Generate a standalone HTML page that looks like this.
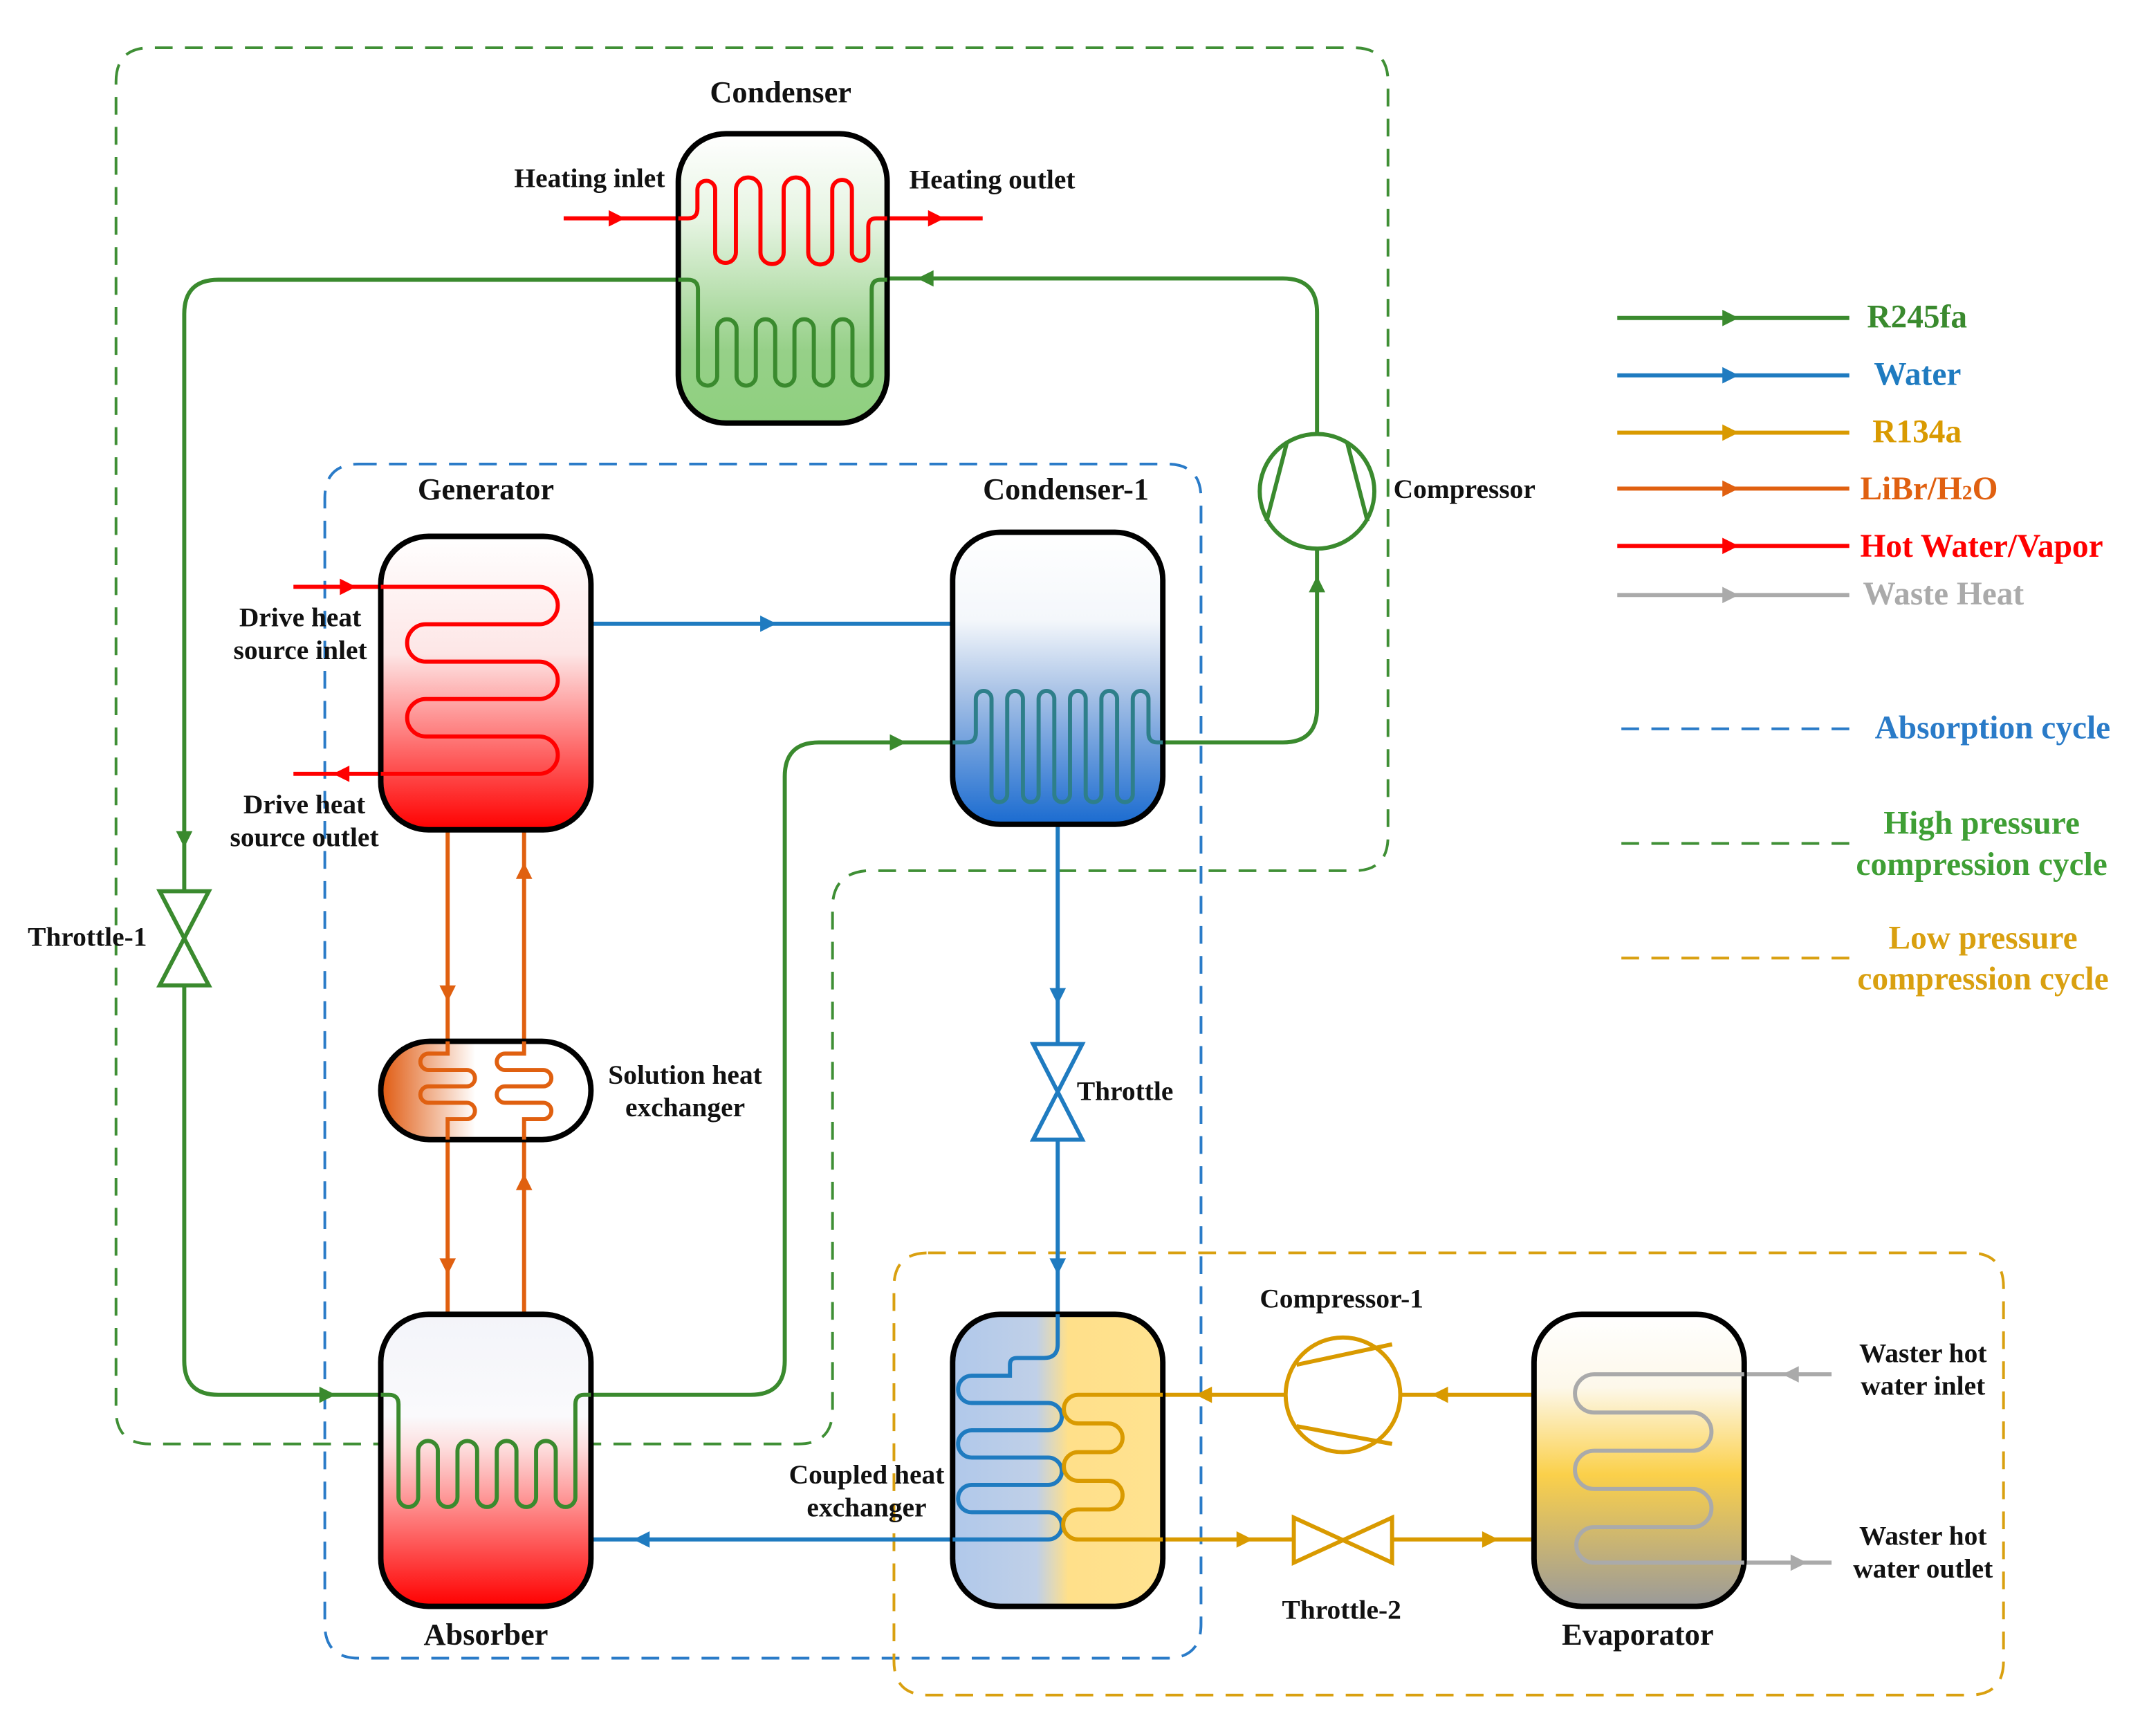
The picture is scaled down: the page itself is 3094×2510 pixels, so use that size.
<!DOCTYPE html>
<html><head><meta charset="utf-8"><style>
html,body{margin:0;padding:0;background:#fff}
svg{display:block}
text{font-family:"Liberation Serif",serif;font-weight:bold;font-size:20px}
.t{font-size:22.5px}
.lg{font-size:24px}
</style></head><body>
<svg width="3094" height="2510" viewBox="0 0 1568 1272" preserveAspectRatio="none" xmlns="http://www.w3.org/2000/svg">
<defs>
<linearGradient id="gGreen" x1="0" y1="0" x2="0" y2="1"><stop offset="0" stop-color="#fff"/><stop offset="0.3" stop-color="#e6f4e2"/><stop offset="0.75" stop-color="#96d088"/><stop offset="1" stop-color="#8fd07f"/></linearGradient>
<linearGradient id="gRed" x1="0" y1="0" x2="0" y2="1"><stop offset="0" stop-color="#fff"/><stop offset="0.4" stop-color="#fde6e6"/><stop offset="1" stop-color="#f00"/></linearGradient>
<linearGradient id="gRed2" x1="0" y1="0" x2="0" y2="1"><stop offset="0" stop-color="#f3f4f9"/><stop offset="0.35" stop-color="#fafafc"/><stop offset="0.45" stop-color="#fde0e0"/><stop offset="1" stop-color="#f00"/></linearGradient>
<linearGradient id="gBlue" x1="0" y1="0" x2="0" y2="1"><stop offset="0" stop-color="#fff"/><stop offset="0.3" stop-color="#f4f7fb"/><stop offset="0.55" stop-color="#a8c2e6"/><stop offset="1" stop-color="#1a6bd0"/></linearGradient>
<linearGradient id="gCHX" x1="0" y1="0" x2="1" y2="0"><stop offset="0" stop-color="#b0c8ea"/><stop offset="0.4" stop-color="#c0d0e8"/><stop offset="0.55" stop-color="#ffe08a"/><stop offset="1" stop-color="#ffe290"/></linearGradient>
<linearGradient id="gEvap" x1="0" y1="0" x2="0" y2="1"><stop offset="0" stop-color="#fff"/><stop offset="0.25" stop-color="#fdf8ea"/><stop offset="0.55" stop-color="#fbd04a"/><stop offset="1" stop-color="#9a9a9a"/></linearGradient>
<linearGradient id="gSHX" x1="0" y1="0" x2="1" y2="0"><stop offset="0" stop-color="#e05a10"/><stop offset="0.45" stop-color="#fff"/><stop offset="1" stop-color="#fff"/></linearGradient>
</defs>

<g fill="none" stroke-width="2" stroke-dasharray="13,9">
<path d="M85,60 Q85,35 110,35 H992 Q1017,35 1017,60 V613 Q1017,638 992,638 H635 Q610,640 610,665 V1033 Q610,1058 585,1058 H110 Q85,1058 85,1033 Z" stroke="#3f8f35"/>
<path d="M263,340 H855 Q880,340 880,365 V1190 Q880,1215 855,1215 H263 Q238,1215 238,1190 V365 Q238,340 263,340 Z" stroke="#2a7bc8"/>
<path d="M680,918 H1443 Q1468,918 1468,943 V1217 Q1468,1242 1443,1242 H680 Q655,1242 655,1217 V943 Q655,918 680,918 Z" stroke="#d9a010"/>
</g>

<g fill="none" stroke="#3a8a2e" stroke-width="3">
<path d="M497,205 H160 Q135,205 135,230 V997 Q135,1022 160,1022 H279"/>
<path d="M433,1022 H550 Q575,1022 575,997 V569 Q575,544 600,544 H698"/>
<path d="M852,544 H940 Q965,544 965,519 V402"/>
<path d="M965,318 V229 Q965,204 940,204 H650"/>
</g>
<g fill="none" stroke="#1f7bc0" stroke-width="3">
<path d="M433,457 H698"/>
<path d="M775,604 V765 M775,835 V963"/>
<path d="M698,1128 H433"/>
</g>
<g fill="none" stroke="#d99a00" stroke-width="3">
<path d="M1124,1022 H1026 M942,1022 H852"/>
<path d="M852,1128 H948 M1020,1128 H1124"/>
</g>
<g fill="none" stroke="#e06010" stroke-width="3">
<path d="M328,608 V763 M384,608 V763 M328,835 V963 M384,835 V963"/>
</g>
<g fill="none" stroke="#f00" stroke-width="3">
<path d="M413,160 H497 M650,160 H720"/>
<path d="M215,430 H279 M279,567 H215"/>
</g>
<g fill="none" stroke="#aaa" stroke-width="3">
<path d="M1342,1007 H1278 M1278,1145 H1342"/>
</g>

<g stroke="#000" stroke-width="4">
<rect x="497" y="98" width="153" height="212" rx="35" fill="url(#gGreen)"/>
<rect x="279" y="393" width="154" height="215" rx="35" fill="url(#gRed)"/>
<rect x="698" y="390" width="154" height="214" rx="35" fill="url(#gBlue)"/>
<rect x="279" y="963" width="154" height="214" rx="35" fill="url(#gRed2)"/>
<rect x="698" y="963" width="154" height="214" rx="35" fill="url(#gCHX)"/>
<rect x="1124" y="963" width="154" height="214" rx="35" fill="url(#gEvap)"/>
<rect x="279" y="763" width="154" height="72" rx="36" fill="url(#gSHX)"/>
</g>

<g fill="none" stroke-width="3">
<path stroke="#f00" d="M497,160 H504 Q511,160 511,153 V139 A6.5,6.5 0 0 1 524,139 V185 A7.6,7.6 0 0 0 539.2,185 V139 A9,9 0 0 1 557.2,139 V185 A8.5,8.5 0 0 0 574.2,185 V139 A9,9 0 0 1 592.2,139 V185 A8.8,8.8 0 0 0 609.8,185 V139 A7.2,7.2 0 0 1 624.2,139 V185 A6,6 0 0 0 636.2,185 V166 Q636.2,160 642,160 H650"/>
<path stroke="#3a8a2e" d="M497,205 H504 Q511.4,205 511.4,212 V276 A7.07,7.07 0 0 0 525.5,276 V241 A7.07,7.07 0 0 1 539.7,241 V276 A7.07,7.07 0 0 0 553.8,276 V241 A7.07,7.07 0 0 1 568,241 V276 A7.07,7.07 0 0 0 582.1,276 V241 A7.07,7.07 0 0 1 596.3,241 V276 A7.07,7.07 0 0 0 610.4,276 V241 A7.07,7.07 0 0 1 624.6,241 V276 A7.07,7.07 0 0 0 638.7,276 V212 Q638.7,205 645,205 H650"/>
<path stroke="#2e7f8a" d="M698,544 H708 Q715,544 715,537 V512 A5.75,5.75 0 0 1 726.5,512 V582 A5.75,5.75 0 0 0 738,582 V512 A5.75,5.75 0 0 1 749.5,512 V582 A5.75,5.75 0 0 0 761,582 V512 A5.75,5.75 0 0 1 772.5,512 V582 A5.75,5.75 0 0 0 784,582 V512 A5.75,5.75 0 0 1 795.5,512 V582 A5.75,5.75 0 0 0 807,582 V512 A5.75,5.75 0 0 1 818.5,512 V582 A5.75,5.75 0 0 0 830,582 V512 A5.75,5.75 0 0 1 841.5,512 V537 Q841.5,544 848,544 H852"/>
<path stroke="#3a8a2e" d="M279,1022 H285 Q292,1022 292,1029 V1097 A7.2,7.2 0 0 0 306.4,1097 V1063 A7.2,7.2 0 0 1 320.8,1063 V1097 A7.2,7.2 0 0 0 335.2,1097 V1063 A7.2,7.2 0 0 1 349.6,1063 V1097 A7.2,7.2 0 0 0 364,1097 V1063 A7.2,7.2 0 0 1 378.4,1063 V1097 A7.2,7.2 0 0 0 392.8,1097 V1063 A7.2,7.2 0 0 1 407.2,1063 V1097 A7.2,7.2 0 0 0 421.6,1097 V1029 Q421.6,1022 428,1022 H433"/>
<path stroke="#f00" d="M279,430 H395 A13.7,13.7 0 0 1 395,457.4 H312 A13.7,13.7 0 0 0 312,484.8 H395 A13.7,13.7 0 0 1 395,512.2 H312 A13.7,13.7 0 0 0 312,539.6 H395 A13.7,13.7 0 0 1 395,567 H279"/>
<path stroke="#aaa" d="M1278,1007 H1168 A14,14 0 0 0 1168,1035 H1240 A14,14 0 0 1 1240,1063 H1168 A14,14 0 0 0 1168,1091 H1240 A14,14 0 0 1 1240,1119 H1168 A13,13 0 0 0 1168,1145 H1278"/>
<path stroke="#1f7bc0" d="M775,963 V985 Q775,995 765,995 H745 Q740,995 740,1000 V1008 H712 A10,10 0 0 0 712,1028 H768 A10,10 0 0 1 768,1048 H712 A10,10 0 0 0 712,1068 H768 A10,10 0 0 1 768,1088 H712 A10,10 0 0 0 712,1108 H768 A10,10 0 0 1 768,1128 H698"/>
<path stroke="#d99a00" d="M852,1022 H790 A10.5,10.5 0 0 0 790,1043 H812 A10.5,10.5 0 0 1 812,1064 H790 A10.5,10.5 0 0 0 790,1085 H812 A10.5,10.5 0 0 1 812,1106 H790 A11,11 0 0 0 790,1128 H852"/>
<path stroke="#e06010" d="M328,763 V772 H314 A6,6 0 0 0 314,784 H342 A6,6 0 0 1 342,796 H314 A6,6 0 0 0 314,808 H342 A6,6 0 0 1 342,820 H328 V835"/>
<path stroke="#e06010" d="M384,763 V772 H370 A6,6 0 0 0 370,784 H398 A6,6 0 0 1 398,796 H370 A6,6 0 0 0 370,808 H398 A6,6 0 0 1 398,820 H384 V835"/>
</g>

<g fill="#fff" stroke-width="3">
<circle cx="965" cy="360" r="42" stroke="#3a8a2e"/>
<path d="M943,324 L928,382 M987,324 L1002,382" stroke="#3a8a2e" fill="none"/>
<circle cx="984" cy="1022" r="42" stroke="#d99a00"/>
<path d="M950,1000 L1020,985 M950,1045 L1020,1058" stroke="#d99a00" fill="none"/>
</g>
<g fill="#fff" stroke-width="3">
<path d="M117,653 H153 L117,722 H153 Z" stroke="#3a8a2e"/>
<path d="M757,765 H793 L757,835 H793 Z" stroke="#1f7bc0"/>
<path d="M948,1112 V1145 L1020,1112 V1145 Z" stroke="#d99a00"/>
</g>

<g>
<path d="M-6,-6 L6,0 L-6,6 Z" fill="#3a8a2e" transform="translate(135,615) rotate(90)"/>
<path d="M-6,-6 L6,0 L-6,6 Z" fill="#3a8a2e" transform="translate(240,1022)"/>
<path d="M-6,-6 L6,0 L-6,6 Z" fill="#3a8a2e" transform="translate(658,544)"/>
<path d="M-6,-6 L6,0 L-6,6 Z" fill="#3a8a2e" transform="translate(965,428) rotate(-90)"/>
<path d="M-6,-6 L6,0 L-6,6 Z" fill="#3a8a2e" transform="translate(678,204) rotate(180)"/>
<path d="M-6,-6 L6,0 L-6,6 Z" fill="#1f7bc0" transform="translate(563,457)"/>
<path d="M-6,-6 L6,0 L-6,6 Z" fill="#1f7bc0" transform="translate(775,730) rotate(90)"/>
<path d="M-6,-6 L6,0 L-6,6 Z" fill="#1f7bc0" transform="translate(775,928) rotate(90)"/>
<path d="M-6,-6 L6,0 L-6,6 Z" fill="#1f7bc0" transform="translate(470,1128) rotate(180)"/>
<path d="M-6,-6 L6,0 L-6,6 Z" fill="#d99a00" transform="translate(1055,1022) rotate(180)"/>
<path d="M-6,-6 L6,0 L-6,6 Z" fill="#d99a00" transform="translate(882,1022) rotate(180)"/>
<path d="M-6,-6 L6,0 L-6,6 Z" fill="#d99a00" transform="translate(912,1128)"/>
<path d="M-6,-6 L6,0 L-6,6 Z" fill="#d99a00" transform="translate(1092,1128)"/>
<path d="M-6,-6 L6,0 L-6,6 Z" fill="#e06010" transform="translate(328,728) rotate(90)"/>
<path d="M-6,-6 L6,0 L-6,6 Z" fill="#e06010" transform="translate(384,638) rotate(-90)"/>
<path d="M-6,-6 L6,0 L-6,6 Z" fill="#e06010" transform="translate(328,928) rotate(90)"/>
<path d="M-6,-6 L6,0 L-6,6 Z" fill="#e06010" transform="translate(384,866) rotate(-90)"/>
<path d="M-6,-6 L6,0 L-6,6 Z" fill="#f00" transform="translate(452,160)"/>
<path d="M-6,-6 L6,0 L-6,6 Z" fill="#f00" transform="translate(686,160)"/>
<path d="M-6,-6 L6,0 L-6,6 Z" fill="#f00" transform="translate(255,430)"/>
<path d="M-6,-6 L6,0 L-6,6 Z" fill="#f00" transform="translate(250,567) rotate(180)"/>
<path d="M-6,-6 L6,0 L-6,6 Z" fill="#aaa" transform="translate(1312,1007) rotate(180)"/>
<path d="M-6,-6 L6,0 L-6,6 Z" fill="#aaa" transform="translate(1318,1145)"/>
</g>

<g stroke-width="3">
<path d="M1185,233 H1355" stroke="#3a8a2e"/><path d="M-6,-6 L6,0 L-6,6 Z" fill="#3a8a2e" transform="translate(1268,233)"/>
<path d="M1185,275 H1355" stroke="#1f7bc0"/><path d="M-6,-6 L6,0 L-6,6 Z" fill="#1f7bc0" transform="translate(1268,275)"/>
<path d="M1185,317 H1355" stroke="#d99a00"/><path d="M-6,-6 L6,0 L-6,6 Z" fill="#d99a00" transform="translate(1268,317)"/>
<path d="M1185,358 H1355" stroke="#e06010"/><path d="M-6,-6 L6,0 L-6,6 Z" fill="#e06010" transform="translate(1268,358)"/>
<path d="M1185,400 H1355" stroke="#f00"/><path d="M-6,-6 L6,0 L-6,6 Z" fill="#f00" transform="translate(1268,400)"/>
<path d="M1185,436 H1355" stroke="#aaa"/><path d="M-6,-6 L6,0 L-6,6 Z" fill="#aaa" transform="translate(1268,436)"/>
</g>
<g stroke-width="2" stroke-dasharray="13,9" fill="none">
<path d="M1188,534 H1358" stroke="#2a7bc8"/>
<path d="M1188,618 H1358" stroke="#3f8f35"/>
<path d="M1188,702 H1358" stroke="#d9a010"/>
</g>
<g class="lg">
<text class="lg" x="1368" y="240" fill="#3a8a2e">R245fa</text>
<text class="lg" x="1373" y="282" fill="#1f7bc0">Water</text>
<text class="lg" x="1372" y="324" fill="#d99a00">R134a</text>
<text class="lg" x="1363" y="366" fill="#e06010">LiBr/H<tspan style="font-size:15px">2</tspan>O</text>
<text class="lg" x="1363" y="408" fill="#f00">Hot Water/Vapor</text>
<text class="lg" x="1365" y="443" fill="#aaa">Waste Heat</text>
<text class="lg" x="1460" y="541" fill="#2a7bc8" text-anchor="middle">Absorption cycle</text>
<text class="lg" x="1452" y="611" fill="#3f9f35" text-anchor="middle">High pressure</text>
<text class="lg" x="1452" y="641" fill="#3f9f35" text-anchor="middle">compression cycle</text>
<text class="lg" x="1453" y="695" fill="#d9a010" text-anchor="middle">Low pressure</text>
<text class="lg" x="1453" y="725" fill="#d9a010" text-anchor="middle">compression cycle</text>
</g>

<g fill="#111">
<text class="t" x="572" y="75" text-anchor="middle">Condenser</text>
<text x="432" y="137" text-anchor="middle">Heating inlet</text>
<text x="727" y="138" text-anchor="middle">Heating outlet</text>
<text class="t" x="356" y="366" text-anchor="middle">Generator</text>
<text class="t" x="781" y="366" text-anchor="middle">Condenser-1</text>
<text x="1021" y="365">Compressor</text>
<text x="220" y="459" text-anchor="middle">Drive  heat</text>
<text x="220" y="483" text-anchor="middle">source inlet</text>
<text x="223" y="596" text-anchor="middle">Drive heat</text>
<text x="223" y="620" text-anchor="middle">source outlet</text>
<text x="64" y="693" text-anchor="middle">Throttle-1</text>
<text x="502" y="794" text-anchor="middle">Solution heat</text>
<text x="502" y="818" text-anchor="middle">exchanger</text>
<text x="789" y="806">Throttle</text>
<text x="983" y="958" text-anchor="middle">Compressor-1</text>
<text x="1409" y="998" text-anchor="middle">Waster hot</text>
<text x="1409" y="1022" text-anchor="middle">water inlet</text>
<text x="635" y="1087" text-anchor="middle">Coupled heat</text>
<text x="635" y="1111" text-anchor="middle">exchanger</text>
<text x="1409" y="1132" text-anchor="middle">Waster hot</text>
<text x="1409" y="1156" text-anchor="middle">water outlet</text>
<text x="983" y="1186" text-anchor="middle">Throttle-2</text>
<text class="t" x="356" y="1205" text-anchor="middle">Absorber</text>
<text class="t" x="1200" y="1205" text-anchor="middle">Evaporator</text>
</g>
</svg>
</body></html>
